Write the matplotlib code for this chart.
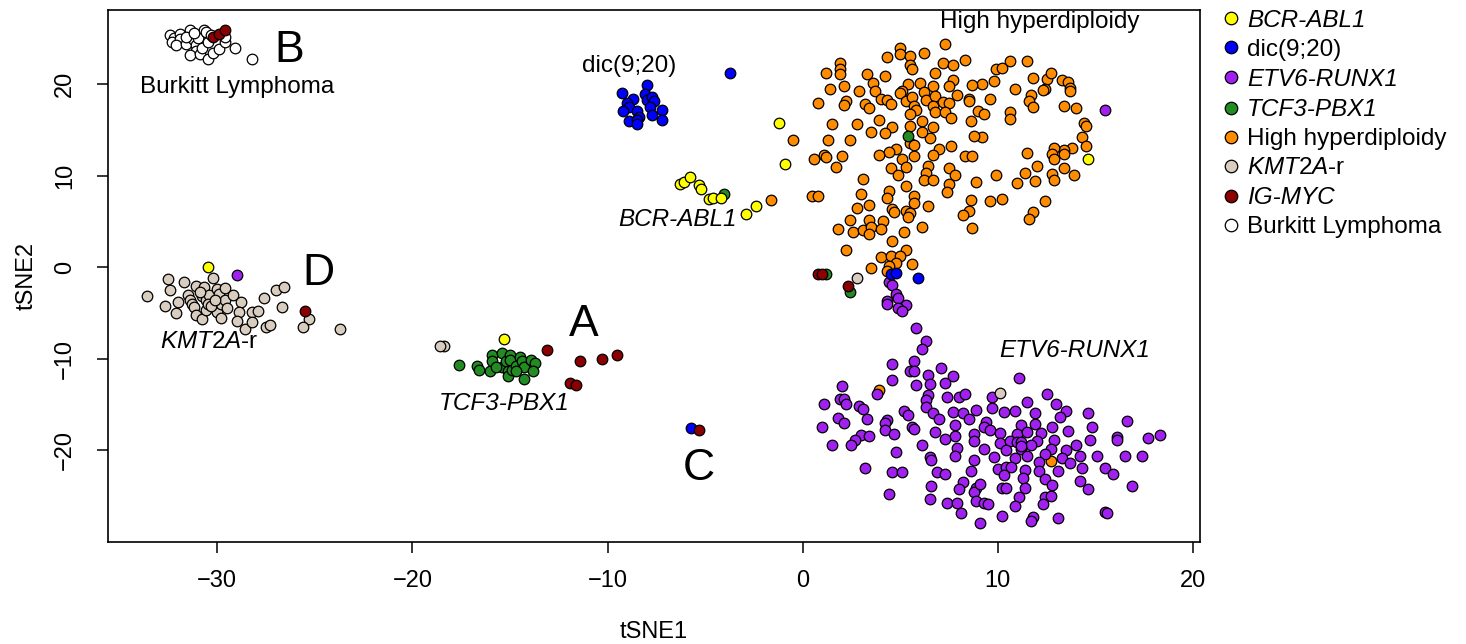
import numpy as np
import matplotlib
matplotlib.use("Agg")
import matplotlib.pyplot as plt
from matplotlib.lines import Line2D

plt.rcParams['font.family'] = ['Liberation Sans', 'DejaVu Sans']
plt.rcParams['mathtext.fontset'] = 'custom'
plt.rcParams['mathtext.rm'] = 'Liberation Sans'
plt.rcParams['mathtext.it'] = 'Liberation Sans:italic'

# tSNE coordinates per subtype
high_hyper = [
    (7.3, 24.4), (5.0, 23.9), (5.0, 23.3), (5.5, 23.1), (6.2, 23.4), (4.3, 23.0), (1.9, 22.3), (1.9, 21.7),
    (1.9, 21.1), (1.2, 21.2), (7.2, 22.3), (7.7, 22.1), (8.3, 22.6), (10.6, 22.5), (11.5, 22.5), (9.9, 21.6),
    (10.2, 21.8), (5.5, 22.1), (5.6, 21.6), (6.8, 21.2), (4.2, 20.9), (3.3, 21.1), (12.5, 20.6), (12.7, 21.2),
    (11.8, 20.7), (13.3, 20.5), (13.6, 20.2), (13.7, 19.6), (13.7, 19.2), (12.4, 19.5), (12.3, 19.4), (10.9, 19.5),
    (9.8, 20.3), (9.2, 20.0), (8.7, 19.9), (7.7, 20.4), (7.5, 19.8), (6.7, 19.8), (6.0, 20.1), (5.4, 20.0),
    (6.2, 19.1), (6.3, 18.3), (6.8, 18.7), (5.1, 19.3), (5.0, 19.0), (3.6, 20.1), (3.7, 19.2), (2.9, 19.3),
    (2.1, 19.8), (1.4, 19.5), (4.0, 18.4), (4.3, 18.3), (4.5, 17.8), (3.2, 17.8), (3.4, 17.4), (2.2, 18.1),
    (2.1, 17.7), (0.8, 17.9), (5.3, 18.1), (5.6, 18.6), (5.7, 17.6), (5.8, 17.2), (5.5, 16.7), (7.2, 18.0),
    (7.5, 17.9), (6.7, 17.6), (6.8, 17.0), (7.3, 16.9), (7.6, 16.3), (7.9, 18.8), (8.5, 18.4), (8.5, 18.2),
    (9.6, 18.4), (11.7, 18.8), (11.6, 18.1), (11.8, 17.5), (13.4, 17.6), (14.0, 17.4), (10.6, 17.0), (10.6, 16.2),
    (9.0, 17.1), (9.3, 16.7), (8.6, 16.0), (14.4, 15.7), (14.5, 15.4), (14.3, 14.2), (14.5, 13.2), (13.8, 13.0),
    (13.4, 12.8), (12.9, 13.0), (13.4, 12.4), (12.8, 12.4), (11.5, 12.5), (9.2, 14.2), (8.8, 14.3), (7.6, 13.2),
    (7.0, 12.9), (6.5, 14.1), (6.1, 14.8), (6.7, 15.3), (6.1, 16.0), (5.5, 15.4), (5.5, 13.6), (5.7, 13.3),
    (4.6, 15.3), (4.2, 14.7), (3.5, 14.8), (3.9, 16.1), (2.8, 15.6), (1.5, 15.6), (1.3, 13.9), (2.4, 13.9),
    (4.8, 12.9), (4.4, 12.6), (3.9, 12.3), (2.0, 12.1), (1.1, 12.2), (0.6, 11.8), (5.1, 11.8), (5.7, 12.1),
    (6.7, 12.2), (8.3, 12.1), (8.7, 12.1), (12.9, 11.8), (1.2, 12.0), (1.7, 10.9), (4.5, 10.8), (5.3, 10.9),
    (4.9, 10.1), (6.4, 11.0), (6.3, 10.3), (6.2, 9.5), (6.7, 9.5), (7.5, 10.8), (7.8, 10.1), (7.5, 9.1),
    (7.4, 8.2), (8.9, 9.3), (9.9, 10.1), (11.4, 10.3), (12.0, 11.0), (11.9, 9.4), (11.0, 9.2), (12.8, 10.2),
    (12.9, 9.5), (13.4, 10.8), (13.9, 10.1), (3.1, 9.6), (3.0, 8.0), (5.3, 8.9), (4.4, 8.3), (4.3, 7.5),
    (5.7, 7.8), (5.7, 7.0), (6.4, 6.7), (0.5, 7.8), (0.8, 7.8), (3.4, 6.8), (2.8, 6.5), (4.6, 6.4),
    (4.7, 6.0), (5.3, 6.1), (5.5, 5.9), (5.4, 5.5), (8.6, 7.3), (9.6, 7.2), (10.2, 7.4), (12.4, 7.2),
    (8.5, 6.1), (8.2, 5.7), (11.8, 6.0), (11.6, 5.3), (2.4, 5.1), (3.4, 5.1), (4.1, 5.0), (1.8, 4.2),
    (2.6, 3.8), (3.1, 4.0), (3.5, 4.4), (4.0, 4.2), (3.4, 3.6), (5.2, 3.8), (6.1, 4.4), (8.7, 4.3),
    (2.2, 1.9), (4.6, 2.8), (5.3, 1.9), (4.0, 1.1), (4.5, 1.2), (5.0, 1.2), (4.8, 0.5), (5.6, 0.3),
    (4.4, 0.1), (3.5, -0.1), (4.3, -0.4), (-0.5, 13.9), (-1.6, 7.3), (3.9, -13.4), (12.7, -21.2),
]

etv6_runx1 = [
    (15.5, 17.2), (-29.0, -0.9),
    (4.4, -1.6), (4.6, -2.0), (4.8, -2.9), (4.9, -3.4), (4.3, -3.7), (4.3, -4.0), (5.3, -4.1), (4.9, -4.5),
    (5.1, -4.8), (5.8, -6.7), (6.3, -8.1), (6.1, -9.0), (5.7, -10.3), (4.6, -10.6), (7.1, -11.0),
    (5.5, -11.4), (5.7, -11.4), (6.4, -11.8), (7.7, -11.9), (4.6, -12.3), (5.8, -12.9), (6.5, -12.8), (7.3, -12.7),
    (2.0, -13.0), (3.8, -13.9), (6.4, -14.0), (6.3, -14.5), (9.7, -14.2), (7.4, -14.2), (8.0, -14.2), (8.3, -13.9),
    (1.1, -15.0), (1.9, -14.4), (2.1, -14.4), (2.2, -15.0), (2.9, -15.2), (3.1, -15.5), (1.8, -16.5), (2.1, -17.0),
    (1.0, -17.5), (3.3, -16.6), (4.3, -16.7), (4.2, -17.0), (4.2, -17.8), (5.2, -15.7), (5.4, -16.2), (6.3, -15.3),
    (6.7, -16.0), (7.0, -16.6), (5.6, -17.5), (5.7, -17.7), (4.7, -18.2), (6.8, -18.0), (7.8, -17.3), (7.7, -15.8),
    (8.2, -15.9), (8.5, -16.6), (8.9, -15.6), (9.7, -15.4), (9.4, -16.9), (9.3, -17.5), (9.6, -17.8), (10.1, -18.1),
    (8.8, -18.2), (7.8, -18.5), (7.3, -18.8), (8.8, -19.0), (10.1, -19.2), (9.3, -19.9), (7.9, -19.8), (7.8, -20.6),
    (6.5, -20.8), (6.6, -21.1), (6.1, -19.4), (4.8, -20.2), (3.0, -18.4), (3.4, -18.5), (2.7, -18.9), (2.5, -19.4),
    (1.5, -19.4), (8.8, -21.1), (9.8, -20.8), (10.0, -22.1), (8.6, -22.3), (8.2, -23.5), (8.0, -24.3), (8.9, -24.1),
    (8.8, -24.6), (9.1, -23.7), (6.9, -22.4), (7.3, -22.6), (6.6, -23.9), (4.6, -22.4), (5.1, -22.4), (3.2, -22.0),
    (4.4, -24.8), (6.5, -25.4), (7.4, -25.8), (7.9, -25.8), (8.9, -25.6), (9.3, -25.8), (9.5, -25.9), (8.1, -26.9),
    (9.1, -28.0), (10.2, -27.2), (10.2, -24.1),
    (11.1, -12.1), (12.5, -13.9), (11.5, -14.7), (13.0, -15.0), (10.3, -15.8), (10.9, -15.7), (11.9, -15.9),
    (13.5, -15.7), (13.2, -16.4), (14.6, -15.9), (16.6, -16.8), (11.2, -17.3), (11.9, -17.2), (12.8, -17.5),
    (14.8, -17.5), (13.6, -17.9), (11.0, -18.2), (11.5, -18.0), (12.2, -18.1), (10.6, -19.0), (11.0, -19.1),
    (11.2, -19.1), (12.0, -19.0), (11.7, -19.5), (12.9, -18.9), (14.0, -19.4), (14.7, -18.9), (16.1, -18.6),
    (16.1, -18.9), (17.7, -18.7), (18.3, -18.4), (10.4, -20.0), (11.2, -19.9), (11.2, -19.6), (12.7, -19.9),
    (12.4, -20.4), (13.5, -20.0), (10.9, -20.9), (11.5, -20.7), (12.1, -21.3), (13.3, -20.9), (13.7, -21.4),
    (14.2, -20.6), (15.1, -20.6), (16.5, -20.7), (17.4, -20.7), (10.4, -21.8), (10.7, -21.9), (11.4, -22.2),
    (12.1, -22.3), (13.1, -22.3), (14.3, -22.0), (15.5, -22.0), (15.9, -22.6), (10.3, -22.7), (11.3, -23.1),
    (12.4, -23.2), (12.8, -23.8), (14.2, -23.4), (14.6, -24.3), (16.9, -23.9), (11.4, -24.2), (10.4, -24.1),
    (11.1, -25.1), (12.4, -25.1), (12.7, -25.0), (10.9, -26.1), (12.3, -25.9), (11.8, -27.3), (11.7, -27.7),
    (13.1, -27.4), (15.5, -26.8), (15.6, -26.9),
]

kmt2a = [
    (-33.6, -3.2), (-32.5, -1.3), (-32.4, -2.5), (-31.7, -1.6), (-32.7, -4.3), (-32.1, -5.0), (-32.0, -3.8),
    (-31.5, -3.0), (-31.4, -3.6), (-31.3, -4.0), (-31.2, -4.4), (-31.1, -5.2), (-30.8, -5.7), (-31.1, -2.1),
    (-30.7, -2.2), (-30.8, -3.2), (-30.6, -3.6), (-30.6, -4.7), (-30.4, -3.1), (-30.2, -1.2), (-30.2, -4.0),
    (-30.0, -2.4), (-29.9, -2.9), (-30.0, -4.9), (-29.8, -5.6), (-29.8, -4.0), (-29.6, -3.6), (-29.6, -2.3),
    (-29.5, -4.5), (-29.2, -3.1), (-28.8, -3.8), (-28.9, -4.9), (-29.0, -5.9), (-28.6, -6.8), (-28.2, -4.9),
    (-27.9, -4.8), (-28.2, -6.0), (-27.6, -3.4), (-27.5, -6.5), (-27.3, -6.3), (-27.0, -2.5), (-26.6, -2.2),
    (-26.7, -4.4), (-25.3, -5.7), (-25.6, -6.6), (-23.7, -6.8), (-30.9, -2.7), (-30.5, -4.0), (-30.3, -4.3),
    (-30.1, -3.6), (-18.4, -8.6), (-18.6, -8.6), (2.8, -1.2), (10.1, -13.8),
]

burkitt = [
    (-32.4, 25.4), (-32.2, 25.0), (-32.3, 24.6), (-31.9, 25.5), (-31.9, 24.9), (-32.1, 24.3), (-31.6, 24.4),
    (-31.4, 25.9), (-31.4, 25.2), (-31.2, 24.8), (-31.1, 24.3), (-30.8, 25.4), (-30.7, 25.9), (-31.0, 25.0),
    (-31.1, 23.6), (-31.4, 23.2), (-30.9, 23.3), (-30.8, 23.9), (-30.5, 24.6), (-30.6, 25.7), (-30.5, 22.7),
    (-30.2, 23.4), (-29.9, 23.8), (-30.3, 25.4), (-29.6, 24.6), (-29.6, 25.2), (-29.1, 23.9), (-28.2, 22.7),
    (-31.6, 25.2), (-31.2, 25.6),
]

tcf3_pbx1 = [
    (-17.6, -10.7), (-16.7, -10.8), (-16.6, -11.3), (-16.0, -11.4), (-15.9, -9.6), (-15.9, -10.3), (-15.4, -9.4),
    (-15.4, -10.9), (-15.2, -10.3), (-15.0, -9.6), (-15.0, -10.2), (-15.1, -11.4), (-15.1, -11.9), (-14.9, -11.2),
    (-14.7, -10.8), (-14.5, -9.8), (-14.4, -10.3), (-14.3, -10.9), (-14.3, -12.2), (-13.9, -10.2), (-13.7, -10.5),
    (-13.8, -11.4), (-14.7, -11.4), (-15.7, -10.9), (-4.05, 8.0), (5.4, 14.3), (1.2, -0.8), (2.4, -2.7),
]

dic_9_20 = [
    (-8.0, 19.9), (-9.25, 19.0), (-8.7, 18.4), (-9.0, 17.9), (-8.9, 17.5), (-9.2, 17.1), (-8.5, 17.1),
    (-8.4, 16.4), (-8.9, 16.0), (-8.5, 16.1), (-8.5, 15.6), (-8.1, 18.9), (-8.0, 18.3), (-7.7, 18.6),
    (-7.6, 18.1), (-7.8, 17.5), (-7.7, 16.6), (-7.2, 17.2), (-7.2, 16.1), (-3.7, 21.2), (4.5, -0.8),
    (4.8, -0.7), (5.9, -1.2), (-5.7, -17.6),
]

bcr_abl1 = [
    (14.6, 11.8), (-1.2, 15.8), (-0.9, 11.3), (-2.4, 6.7), (-2.9, 5.8), (-6.3, 9.1), (-6.1, 9.3), (-5.8, 9.9),
    (-5.3, 9.0), (-5.2, 8.5), (-4.8, 7.4), (-4.6, 7.6), (-4.2, 7.6), (-30.5, 0.0), (-15.3, -7.9),
]

ig_myc = [
    (-30.2, 25.2), (-29.9, 25.5), (-29.6, 25.9), (-25.5, -4.8), (-13.1, -9.1), (-11.4, -10.3), (-10.3, -10.1),
    (-9.5, -9.6), (-11.9, -12.7), (-11.6, -12.9), (-5.3, -17.8), (0.8, -0.8), (1.0, -0.8), (2.3, -2.1),
]

groups = [
    (high_hyper, '#FF8C00'),
    (etv6_runx1, '#A020F0'),
    (kmt2a, '#D9CDBF'),
    (burkitt, '#FFFFFF'),
    (tcf3_pbx1, '#228B22'),
    (dic_9_20, '#0000FF'),
    (bcr_abl1, '#FFFF00'),
    (ig_myc, '#8B0000'),
]

legend_labels = ['BCR-ABL1', 'dic(9;20)', 'ETV6-RUNX1', 'TCF3-PBX1', 'High hyperdiploidy',
                 r'$\mathit{KMT2A}$-r', 'IG-MYC', 'Burkitt Lymphoma']
legend_colors = ['#FFFF00', '#0000FF', '#A020F0', '#228B22', '#FF8C00', '#D9CDBF', '#8B0000', '#FFFFFF']
legend_italic = [True, False, True, True, False, False, True, False]

fig = plt.figure(figsize=(14.66, 6.44), dpi=100)
ax = fig.add_axes([108 / 1466, 102 / 644, 1092 / 1466, 532 / 644])

for pts, col in groups:
    arr = np.array(pts)
    ax.scatter(arr[:, 0], arr[:, 1], s=58, c=col, edgecolors='black', linewidths=0.9, zorder=3)

ax.set_xlim(-35.6, 20.36)
ax.set_ylim(-30.05, 28.1)
ax.set_xticks([-30, -20, -10, 0, 10, 20])
ax.set_xticklabels(['\u221230', '\u221220', '\u221210', '0', '10', '20'])
ax.set_yticks([-20, -10, 0, 10, 20])
ax.set_yticklabels(['\u221220', '\u221210', '0', '10', '20'], rotation=90, va='center')
ax.tick_params(direction='out', length=8, width=1.1, labelsize=17, pad=12)
ax.tick_params(axis='y', pad=15)
for sp in ax.spines.values():
    sp.set_linewidth(1.2)
ax.set_xlabel('tSNE1', fontsize=17, labelpad=21)
ax.set_ylabel('tSNE2', fontsize=17, labelpad=12)

# cluster annotations
txt = dict(fontsize=17.5, ha='center', va='center', zorder=4)
ax.text(12.15, 26.8, 'High hyperdiploidy', **txt)
ax.text(-8.87, 22.0, 'dic(9;20)', **txt)
ax.text(-6.4, 5.25, 'BCR-ABL1', fontstyle='italic', **txt)
ax.text(-29.0, 19.7, 'Burkitt Lymphoma', **txt)
ax.text(-30.4, -8.2, r'$\mathit{KMT2A}$-r', **txt)
ax.text(-15.3, -14.9, 'TCF3-PBX1', fontstyle='italic', **txt)
ax.text(13.95, -9.1, 'ETV6-RUNX1', fontstyle='italic', **txt)
big = dict(fontsize=32, ha='center', va='center', zorder=4)
ax.text(-26.3, 23.7, 'B', **big)
ax.text(-24.8, -0.7, 'D', **big)
ax.text(-11.2, -6.3, 'A', **big)
ax.text(-5.3, -22.0, 'C', **big)

handles = [Line2D([], [], marker='o', linestyle='none', markersize=9, markerfacecolor=c,
                  markeredgecolor='black', markeredgewidth=0.9) for c in legend_colors]
leg = fig.legend(handles, legend_labels, loc='upper left', bbox_to_anchor=(1219 / 1466, 0.99),
                 frameon=False, fontsize=17.5, handlelength=0.8, handletextpad=0.25,
                 labelspacing=0.29, borderaxespad=0, borderpad=0.1)
for t, it in zip(leg.get_texts(), legend_italic):
    if it:
        t.set_fontstyle('italic')

fig.savefig('out.png', dpi=100)
